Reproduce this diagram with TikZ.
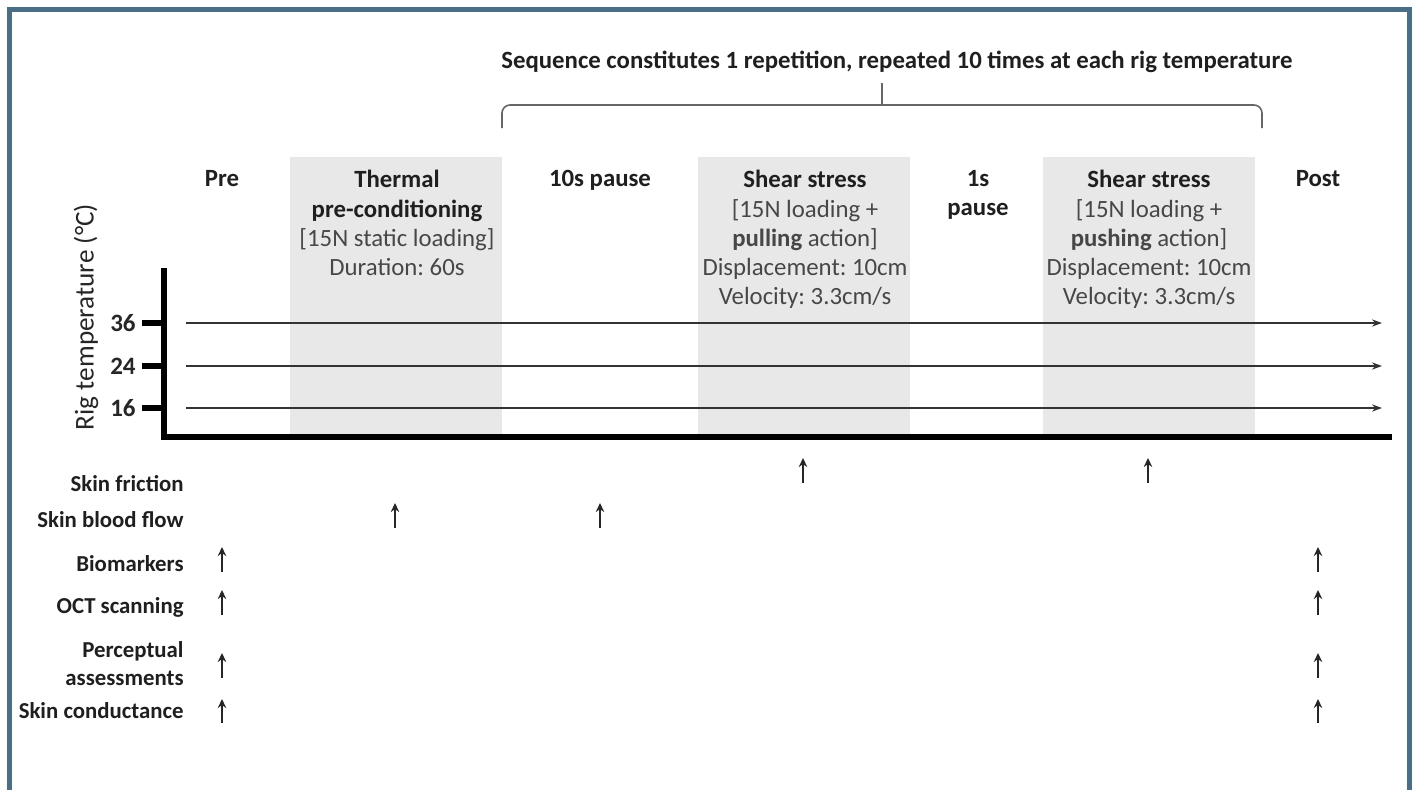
\documentclass[tikz,border=0pt]{standalone}
\usepackage{fontspec}
\setmainfont{Carlito}
\usetikzlibrary{arrows.meta, positioning}
\frenchspacing

\definecolor{framecol}{HTML}{4A6E86}
\definecolor{phasecol}{HTML}{E8E8E8}
\colorlet{subtext}{black!72}

\begin{document}
\begin{tikzpicture}[
        x=0.5pt, y=-0.5pt,
        head/.style={anchor=north, inner sep=0pt, align=center, font=\fontsize{12.4}{14.6}\selectfont\bfseries, text=black!88},
        row/.style={anchor=east, inner sep=0pt, align=right, font=\fontsize{11.4}{14}\selectfont\bfseries, text=black!88},
        axis/.style={line width=3pt, black},
        templine/.style={-{Stealth[length=5pt, width=3.6pt]}, line width=0.8pt, black!80},
        meas/.style={-{Stealth[length=4.5pt, width=4.2pt]}, line width=1.2pt, black!85},
        bracket/.style={line width=0.8pt, black!60, rounded corners=4pt}
    ]
    \clip (0,0) rectangle (1414,789);
    \fill[white] (0,0) rectangle (1414,789);
    \draw[framecol, line width=2.5pt] (9.5,9.5) rectangle (1409,800);

    % shaded phases
    \fill[phasecol] (290,157) rectangle (502,436);
    \fill[phasecol] (698,157) rectangle (910,436);
    \fill[phasecol] (1043,157) rectangle (1255,436);

    % repetition bracket
    \node[anchor=center, inner sep=0pt, font=\fontsize{12.4}{14}\selectfont\bfseries, text=black!88] (seq) at (897,62)
        {Sequence constitutes 1 repetition, repeated 10 times at each rig temperature};
    \coordinate (brL) at (502,128);
    \coordinate (brR) at (1262,128);
    \coordinate (brM) at (882,105);
    \draw[bracket] (brL) |- (brM) -| (brR);
    \draw[bracket] (brM) -- (882,83);

    % phase headings
    \node[head] (pre) at (222,170) {Pre};
    \node[head] (thermal) at (397,170) {Thermal\\pre-conditioning\\
        \mdseries\color{subtext}[15N static loading]\\\mdseries\color{subtext}Duration: 60s};
    \node[head] (pause10) at (600,170) {10s pause};
    \node[head] (shear1) at (805,170) {Shear stress\\
        \mdseries\color{subtext}[15N loading +\\\color{subtext}\textbf{pulling} \mdseries action]\\
        \mdseries\color{subtext}Displacement: 10cm\\\mdseries\color{subtext}Velocity: 3.3cm/s};
    \node[head] (pause1) at (978,170) {1s\\pause};
    \node[head] (shear2) at (1149,170) {Shear stress\\
        \mdseries\color{subtext}[15N loading +\\\color{subtext}\textbf{pushing} \mdseries action]\\
        \mdseries\color{subtext}Displacement: 10cm\\\mdseries\color{subtext}Velocity: 3.3cm/s};
    \node[head] (post) at (1318,170) {Post};

    % rig temperature axis
    \node[rotate=90, inner sep=0pt, font=\fontsize{13.6}{14}\selectfont, text=black!85] (ylab) at (86,317) {Rig temperature (°C)};
    \draw[axis] (164,268) -- (164,437) -- (1392,437);
    \foreach \t/\y in {36/323, 24/366, 16/408} {
        \coordinate (t\t-a) at (186,\y);
        \coordinate (t\t-b) at (1382,\y);
        \draw[axis, line width=2.6pt] (142,\y) -- (164,\y);
        \node[anchor=east, inner sep=0pt, font=\fontsize{12.5}{14}\selectfont\bfseries, text=black!85] (lab\t) at (136,\y) {\t};
        \draw[templine] (t\t-a) -- (t\t-b);
    }

    % measurements
    \node[row] (friction) at (184,484) {Skin friction};
    \node[row] (blood) at (184,520) {Skin blood flow};
    \node[row] (bio) at (184,564) {Biomarkers};
    \node[row] (oct) at (184,607) {OCT scanning};
    \node[row] (percept) at (184,664) {Perceptual\\assessments};
    \node[row] (cond) at (184,711) {Skin conductance};

    \foreach \x/\lo/\hi [count=\k] in {803/483/458, 1148/483/458, 395/528/503, 600/528/503,
        222/572/547, 1318/572/547, 222/615/590, 1318/615/590,
        222/678/653, 1318/678/653, 222/723/699, 1318/723/699} {
        \coordinate (tail\k) at (\x,\lo);
        \coordinate (tip\k) at (\x,\hi);
        \draw[meas] (tail\k) -- (tip\k);
    }
\end{tikzpicture}
\end{document}
